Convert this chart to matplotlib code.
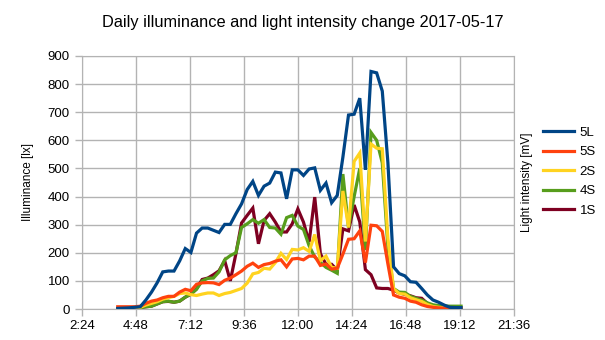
import matplotlib
matplotlib.use("Agg")
import matplotlib.pyplot as plt
import numpy as np

plt.rcParams['font.family'] = ['Liberation Sans', 'DejaVu Sans']

# Sample times (15-minute readings, 04:00 - 19:15)
times = ["04:00","04:15","04:30","04:45","05:00","05:15","05:30","05:45",
         "06:00","06:15","06:30","06:45","07:00","07:15","07:30","07:45",
         "08:00","08:15","08:30","08:45","09:00","09:15","09:30","09:45",
         "10:00","10:15","10:30","10:45","11:00","11:15","11:30","11:45",
         "12:00","12:15","12:30","12:45","13:00","13:15","13:30","13:45",
         "14:00","14:15","14:30","14:45","15:00","15:15","15:30","15:45",
         "16:00","16:15","16:30","16:45","17:00","17:15","17:30","17:45",
         "18:00","18:15","18:30","18:45","19:00","19:15"]

s5L = [2,3,4,6,8,32,60,93,132,135,135,171,215,201,270,288,288,280,272,301,
       301,339,374,425,454,404,437,448,487,484,392,495,495,475,498,502,422,448,
       378,404,540,690,693,750,495,845,840,775,520,150,126,118,97,95,73,50,32,
       24,14,6,5,5]
s5S = [8,8,8,8,10,20,28,32,40,45,45,60,70,65,88,93,94,93,87,102,110,122,135,
       152,163,148,158,162,170,175,150,178,180,175,188,188,155,160,142,145,195,
       248,250,278,165,298,296,276,160,50,42,38,28,24,15,9,6,4,3,2,2,2]
s2S = [0,0,1,2,6,14,20,26,35,40,45,55,57,51,48,53,57,57,48,55,59,66,73,92,
       125,130,145,142,165,198,176,212,210,218,205,265,172,188,148,145,420,290,
       525,555,240,587,572,570,250,72,55,53,40,33,27,16,9,6,4,3,3,3]
s4S = [0,1,2,3,5,8,10,18,26,28,24,28,42,53,70,100,109,110,132,175,190,200,
       290,303,318,305,318,290,288,266,325,333,295,283,225,185,166,148,138,127,
       480,290,400,500,210,628,600,520,220,73,60,59,45,38,32,22,15,12,11,10,10,10]
s1S = [0,1,2,3,5,8,10,18,26,27,24,28,42,53,72,105,110,122,136,172,100,197,306,
       333,359,232,315,339,309,274,274,303,356,309,238,398,197,159,159,138,285,
       278,370,310,140,122,75,73,73,67,57,52,47,40,38,20,10,4,1,0,0,2]

series_names = ["5L", "5S", "2S", "4S", "1S"]
series_vals = [s5L, s5S, s2S, s4S, s1S]
colors = ["#004586", "#ff420e", "#ffd320", "#579d1c", "#7e0021"]

xtick_vals = [2.4, 4.8, 7.2, 9.6, 12.0, 14.4, 16.8, 19.2, 21.6]
xtick_labels = ["2:24", "4:48", "7:12", "9:36", "12:00", "14:24", "16:48", "19:12", "21:36"]

hours = [int(t[:2]) + int(t[3:]) / 60 for t in times]

fig = plt.figure(figsize=(6.05, 3.4), dpi=100)
ax = fig.add_axes([81.7/605, 1 - 309/340, (514 - 81.7)/605, (309 - 56)/340])

zorders = {"5L": 6, "5S": 5, "2S": 4, "4S": 3, "1S": 2}
handles = []
for name, vals, c in zip(series_names, series_vals, colors):
    h, = ax.plot(hours, vals, color=c, lw=2.3, label=name, zorder=zorders[name],
                 solid_joinstyle='miter')
    handles.append(h)

ax.set_xlim(2.4, 21.6)
ax.set_ylim(0, 900)
ax.set_yticks(range(0, 901, 100))
ax.set_xticks(xtick_vals)
ax.set_xticklabels(xtick_labels)
ax.grid(True, color="#b3b3b3", lw=1)
ax.set_axisbelow(True)
for sp in ax.spines.values():
    sp.set_color("#b3b3b3")
ax.tick_params(axis='both', colors="#b3b3b3", labelcolor="black", labelsize=9.5,
               length=5, width=1)
ax.tick_params(axis='x', pad=3)

fig.text(0.5, 1 - 22/340, "Daily illuminance and light intensity change 2017-05-17",
         ha='center', va='center', fontsize=11.8)
fig.text(28/605, 1 - 182/340, "Illuminance [lx]", rotation=90, ha='center',
         va='center', fontsize=8.5)
fig.text(527/605, 1 - 182/340, "Light intensity [mV]", rotation=90, ha='center',
         va='center', fontsize=8.5)

leg = fig.legend(handles=handles, labels=series_names, loc='upper left',
                 bbox_to_anchor=(536/605, 1 - 120/340), frameon=False,
                 fontsize=9.5, handlelength=2.4, handletextpad=0.4,
                 labelspacing=0.55, borderpad=0)

fig.savefig("out.png", dpi=100)
